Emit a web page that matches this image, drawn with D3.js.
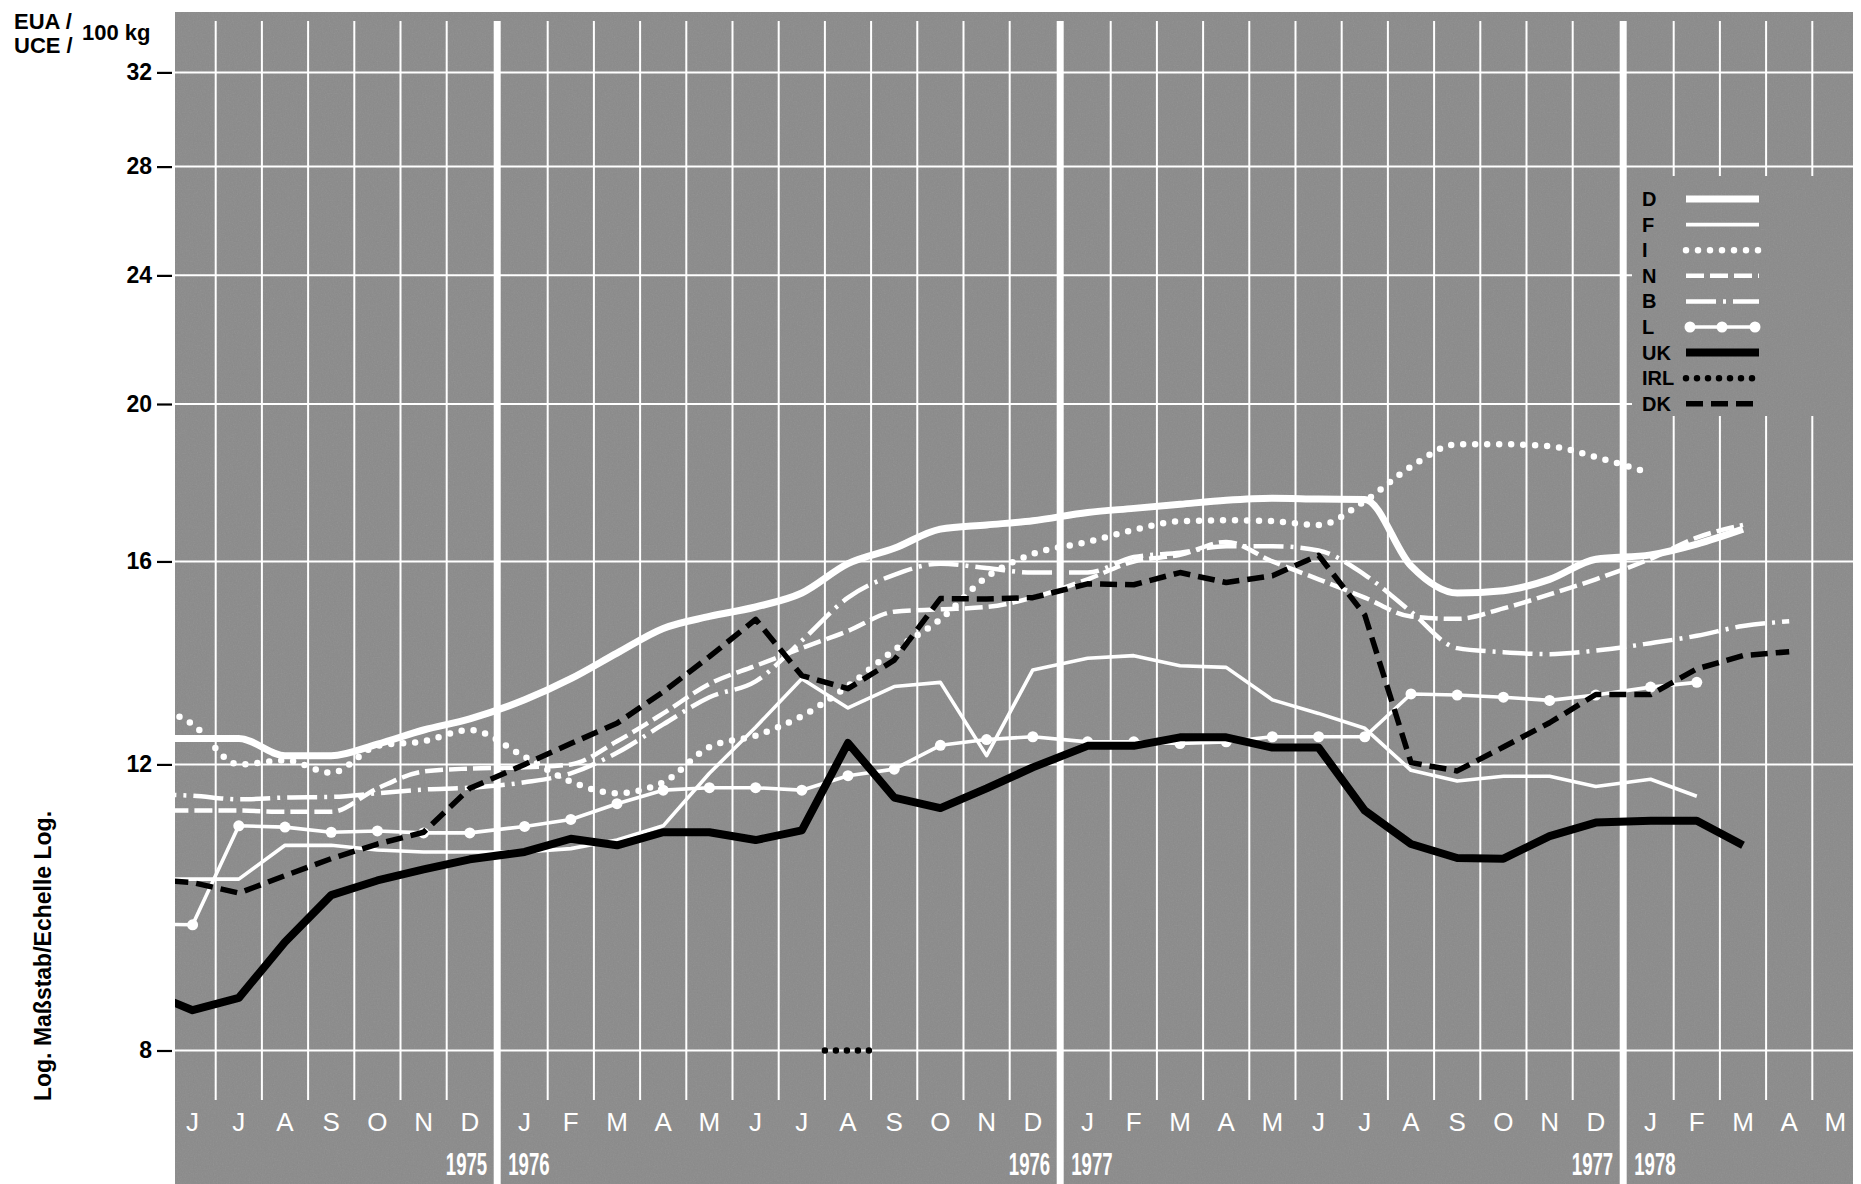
<!DOCTYPE html>
<html>
<head>
<meta charset="utf-8">
<script src="https://cdn.jsdelivr.net/npm/d3@7"></script>
<style>
  html, body { margin: 0; padding: 0; background: #ffffff; }
  svg { display: block; }
</style>
</head>
<body>
<svg id="chart" width="1861" height="1184"></svg>
<script>
// ---- Data -------------------------------------------------------------
// Months from June 1975 (index 0) to May 1978 (index 35)
const monthLabels = ["J","J","A","S","O","N","D",
                     "J","F","M","A","M","J","J","A","S","O","N","D",
                     "J","F","M","A","M","J","J","A","S","O","N","D",
                     "J","F","M","A","M"];
const yearBreaks = [7, 19, 31];                 // first month of a new year
const yearLabels = [["1975", "1976"], ["1976", "1977"], ["1977", "1978"]];
const yTicks = [8, 12, 16, 20, 24, 28, 32];
const firstIndex = -1;                          // series start in May 1975 (clipped at the frame)

// Prices, EUA/UCE per 100 kg, one value per month from firstIndex on
const valuesD = [12.45, 12.45, 12.45, 12.15, 12.15, 12.35, 12.6, 12.8,
                 13.15, 13.55, 14.05, 14.55, 14.8, 15.0, 15.3, 15.95, 16.3, 16.75, 16.85, 16.95,
                 17.15, 17.25, 17.35, 17.45, 17.5, 17.48, 17.47, 15.9, 15.3, 15.35, 15.6, 16.05,
                 16.15, 16.4, 16.75];
const valuesF = [10.2, 10.2, 10.2, 10.7, 10.7, 10.63, 10.6, 10.6,
                 10.6, 10.65, 10.78, 11.0, 11.85, 12.65, 13.55, 13.0, 13.4, 13.48, 12.15, 13.72,
                 13.95, 14.0, 13.8, 13.77, 13.15, 12.9, 12.63, 11.9, 11.72, 11.8, 11.8, 11.63,
                 11.75, 11.47];
const valuesI = [13.1, 12.7, 12.0, 12.07, 11.86, 12.32, 12.4, 12.6,
                 12.13, 11.71, 11.52, 11.7, 12.3, 12.5, 12.85, 13.41, 14.11, 14.74, 15.65, 16.17,
                 16.45, 16.73, 16.94, 16.96, 16.94, 16.85, 17.43, 18.3, 18.89, 18.89, 18.84, 18.55,
                 18.13];
const valuesN = [11.24, 11.24, 11.24, 11.22, 11.22, 11.6, 11.88, 11.93,
                 11.95, 12.0, 12.4, 12.9, 13.45, 13.8, 14.15, 14.5, 14.9, 14.95, 15.0, 15.2,
                 15.6, 16.0, 16.15, 16.45, 16.0, 15.6, 15.2, 14.8, 14.75, 14.97, 15.27, 15.6,
                 16.06, 16.55, 16.85];
const valuesB = [11.5, 11.48, 11.42, 11.45, 11.46, 11.52, 11.58, 11.61,
                 11.7, 11.85, 12.2, 12.7, 13.2, 13.5, 14.3, 15.2, 15.7, 15.95, 15.85, 15.75,
                 15.75, 16.1, 16.2, 16.35, 16.35, 16.25, 15.7, 14.9, 14.15, 14.07, 14.03, 14.1,
                 14.25, 14.4, 14.6, 14.7];
const valuesL = [9.57, 9.56, 11.0, 10.98, 10.9, 10.92, 10.89, 10.89,
                 10.99, 11.1, 11.35, 11.57, 11.61, 11.61, 11.57, 11.81, 11.92, 12.33, 12.43, 12.48,
                 12.39, 12.39, 12.36, 12.39, 12.48, 12.48, 12.48, 13.26, 13.24, 13.2, 13.14, 13.24,
                 13.39, 13.48];
const valuesUK = [8.7, 8.47, 8.62, 9.33, 9.97, 10.18, 10.34, 10.49,
                  10.6, 10.8, 10.7, 10.9, 10.9, 10.78, 10.93, 12.37, 11.45, 11.28, 11.6, 11.95,
                  12.32, 12.32, 12.47, 12.47, 12.29, 12.29, 11.24, 10.72, 10.51, 10.5, 10.84, 11.05,
                  11.08, 11.08, 10.7];
const valuesDK = [10.2, 10.15, 10.0, 10.25, 10.5, 10.72, 10.9, 11.6,
                  12.0, 12.36, 12.72, 13.3, 13.98, 14.74, 13.61, 13.36, 13.91, 15.18, 15.17, 15.2,
                  15.5, 15.48, 15.75, 15.53, 15.68, 16.14, 14.83, 12.03, 11.89, 12.3, 12.73, 13.25,
                  13.25, 13.74, 14.0, 14.08];
// Ireland: a short stretch spanning August 1976
const monthsIRL = [13.5, 14.5];
const valuesIRL = [8, 8];

const legendNames = ["D", "F", "I", "N", "B", "L", "UK", "IRL", "DK"];

// ---- Layout -----------------------------------------------------------
const frame = { left: 175, right: 1853, top: 12, bottom: 1184 };
const gridTop = 21, gridBottom = 1100;
const bandPx = 46.2, gapRatio = 8.6 / 46.2, originPx = 169.5;
const GREY = "#8a8a8a";
const FONT = "'Liberation Sans', Arial, Helvetica, sans-serif";

const svg = d3.select("#chart");
const defs = svg.append("defs");

// Month "slot": uniform month bands with a little extra room at each year break
function slot(i) {
  const breaks = yearBreaks.filter(b => b <= i + 0.5).length;
  return i + 0.5 + gapRatio * breaks;
}
const slotScale = d3.scaleLinear().domain([0, 1]).range([originPx, originPx + bandPx]);
const x = i => slotScale(slot(i));
const boundaryX = k => slotScale(k + gapRatio * yearBreaks.filter(b => b <= k).length);
const breakX = b => slotScale(b + gapRatio * (yearBreaks.filter(v => v <= b).length - 0.5));

const y = d3.scaleLog().domain([8, 32]).range([1050.5, 72.4]);

// Paper grain for the grey printing area
const grain = defs.append("filter").attr("id", "grain")
  .attr("x", 0).attr("y", 0).attr("width", "100%").attr("height", "100%");
grain.append("feTurbulence").attr("type", "fractalNoise")
  .attr("baseFrequency", 0.75).attr("numOctaves", 2).attr("seed", 7);
grain.append("feColorMatrix").attr("type", "saturate").attr("values", 0);

defs.append("clipPath").attr("id", "plotClip").append("rect")
  .attr("x", frame.left).attr("y", frame.top)
  .attr("width", frame.right - frame.left).attr("height", frame.bottom - frame.top);

// ---- Frame & grid -----------------------------------------------------
svg.append("rect")
  .attr("x", frame.left).attr("y", frame.top)
  .attr("width", frame.right - frame.left).attr("height", frame.bottom - frame.top)
  .attr("fill", GREY);
svg.append("rect")
  .attr("x", frame.left).attr("y", frame.top)
  .attr("width", frame.right - frame.left).attr("height", frame.bottom - frame.top)
  .attr("filter", "url(#grain)").attr("opacity", 0.13);

const grid = svg.append("g").attr("stroke", "#ffffff").attr("clip-path", "url(#plotClip)");

// horizontal lines at the labelled values
grid.selectAll("line.h").data(yTicks).join("line")
  .attr("class", "h")
  .attr("x1", frame.left).attr("x2", frame.right)
  .attr("y1", d => y(d)).attr("y2", d => y(d))
  .attr("stroke-width", 2);

// thin month boundaries
const boundaries = d3.range(1, 36).filter(k => !yearBreaks.includes(k));
grid.selectAll("line.v").data(boundaries).join("line")
  .attr("class", "v")
  .attr("x1", d => boundaryX(d)).attr("x2", d => boundaryX(d))
  .attr("y1", gridTop).attr("y2", gridBottom)
  .attr("stroke-width", 2);

// thick year separators
grid.selectAll("line.yr").data(yearBreaks).join("line")
  .attr("class", "yr")
  .attr("x1", d => breakX(d)).attr("x2", d => breakX(d))
  .attr("y1", gridTop).attr("y2", frame.bottom)
  .attr("stroke-width", 7);

// ---- Y axis -----------------------------------------------------------
const yAxis = d3.axisLeft(y).tickValues(yTicks).tickFormat(d3.format("d"))
  .tickSize(15).tickPadding(5);
const yAxisG = svg.append("g").attr("transform", `translate(${frame.left - 3},0)`).call(yAxis);
yAxisG.select(".domain").remove();
yAxisG.selectAll(".tick line").attr("stroke", "#000").attr("stroke-width", 2.2);
yAxisG.selectAll(".tick text")
  .attr("fill", "#000").attr("font-family", FONT)
  .attr("font-weight", "bold").attr("font-size", 23);

// unit heading
const head = svg.append("g").attr("font-family", FONT)
  .attr("font-weight", "bold").attr("font-size", 22).attr("fill", "#000");
head.append("text").attr("x", 14).attr("y", 29).text("EUA /");
head.append("text").attr("x", 14).attr("y", 53).text("UCE /");
head.append("text").attr("x", 82).attr("y", 40).text("100 kg");

// scale note
svg.append("text")
  .attr("transform", "translate(51,956) rotate(-90)")
  .attr("text-anchor", "middle")
  .attr("font-family", FONT)
  .attr("font-weight", "bold").attr("font-size", 23).attr("fill", "#000")
  .text("Log. Maßstab/Echelle Log.");

// ---- X axis (months and years) ----------------------------------------
svg.append("g").selectAll("text").data(monthLabels).join("text")
  .attr("x", (d, i) => x(i)).attr("y", 1131)
  .attr("text-anchor", "middle")
  .attr("font-family", FONT)
  .attr("font-size", 26).attr("fill", "#ffffff")
  .text(d => d);

// condensed year figures either side of each separator
const yearG = svg.append("g").attr("font-family", FONT)
  .attr("font-weight", "bold").attr("font-size", 31).attr("fill", "#ffffff");
yearBreaks.forEach((b, k) => {
  const bx = breakX(b);
  yearG.append("text").attr("transform", `translate(${bx - 10},1175) scale(0.6,1)`)
    .attr("text-anchor", "end").text(yearLabels[k][0]);
  yearG.append("text").attr("transform", `translate(${bx + 11},1175) scale(0.6,1)`)
    .attr("text-anchor", "start").text(yearLabels[k][1]);
});

// ---- Series -----------------------------------------------------------
const toPoints = (vals, start) => vals.map((v, k) => ({ m: start + k, v }));

const styles = {
  D:   { color: "#fff", width: 7,   dash: null,        curve: d3.curveMonotoneX },
  F:   { color: "#fff", width: 3.6, dash: null,        curve: d3.curveLinear },
  I:   { color: "#fff", width: 6.5, dash: "0 12",      curve: d3.curveMonotoneX, cap: "round" },
  N:   { color: "#fff", width: 4.5, dash: "18 6",      curve: d3.curveMonotoneX },
  B:   { color: "#fff", width: 4.5, dash: "30 7 3 7",  curve: d3.curveMonotoneX },
  L:   { color: "#fff", width: 3.6, dash: null,        curve: d3.curveLinear, dots: 5.5 },
  UK:  { color: "#000", width: 8,   dash: null,        curve: d3.curveLinear },
  IRL: { color: "#000", width: 6.5, dash: "0 11",      curve: d3.curveLinear, cap: "round" },
  DK:  { color: "#000", width: 5.5, dash: "17 8",      curve: d3.curveLinear }
};

const series = [
  { name: "F",  pts: toPoints(valuesF, firstIndex) },
  { name: "L",  pts: toPoints(valuesL, firstIndex) },
  { name: "N",  pts: toPoints(valuesN, firstIndex) },
  { name: "B",  pts: toPoints(valuesB, firstIndex) },
  { name: "I",  pts: toPoints(valuesI, firstIndex) },
  { name: "D",  pts: toPoints(valuesD, firstIndex) },
  { name: "UK", pts: toPoints(valuesUK, firstIndex) },
  { name: "DK", pts: toPoints(valuesDK, firstIndex) },
  { name: "IRL", pts: monthsIRL.map((m, k) => ({ m, v: valuesIRL[k] })) }
];

const plot = svg.append("g").attr("clip-path", "url(#plotClip)");
series.forEach(s => {
  const st = styles[s.name];
  const line = d3.line().x(d => x(d.m)).y(d => y(d.v)).curve(st.curve);
  plot.append("path").datum(s.pts)
    .attr("fill", "none")
    .attr("stroke", st.color)
    .attr("stroke-width", st.width)
    .attr("stroke-linejoin", "round")
    .attr("stroke-linecap", st.cap || "butt")
    .attr("stroke-dasharray", st.dash)
    .attr("d", line);
  if (st.dots) {
    plot.append("g").selectAll("circle").data(s.pts.filter(d => d.m >= 0)).join("circle")
      .attr("cx", d => x(d.m)).attr("cy", d => y(d.v)).attr("r", st.dots)
      .attr("fill", st.color);
  }
});

// ---- Legend -----------------------------------------------------------
const legend = svg.append("g");
legend.append("rect").attr("x", 1632).attr("y", 176).attr("width", frame.right - 1632)
  .attr("height", 240).attr("fill", GREY);
legend.append("rect").attr("x", 1632).attr("y", 176).attr("width", frame.right - 1632)
  .attr("height", 240).attr("filter", "url(#grain)").attr("opacity", 0.13);

const rowY = d3.scaleLinear().domain([0, 1]).range([199, 224.6]);
legendNames.forEach((name, k) => {
  const ry = rowY(k);
  const st = styles[name];
  legend.append("text").attr("x", 1642).attr("y", ry + 7)
    .attr("font-family", FONT)
    .attr("font-weight", "bold").attr("font-size", 20).attr("fill", "#000")
    .text(name);
  legend.append("line").attr("x1", 1686).attr("x2", 1759).attr("y1", ry).attr("y2", ry)
    .attr("stroke", st.color).attr("stroke-width", st.width)
    .attr("stroke-linecap", st.cap || "butt")
    .attr("stroke-dasharray", st.dash);
  if (st.dots) {
    legend.append("g").selectAll("circle").data([1690, 1722, 1755]).join("circle")
      .attr("cx", d => d).attr("cy", ry).attr("r", st.dots).attr("fill", st.color);
  }
});
</script>
</body>
</html>
